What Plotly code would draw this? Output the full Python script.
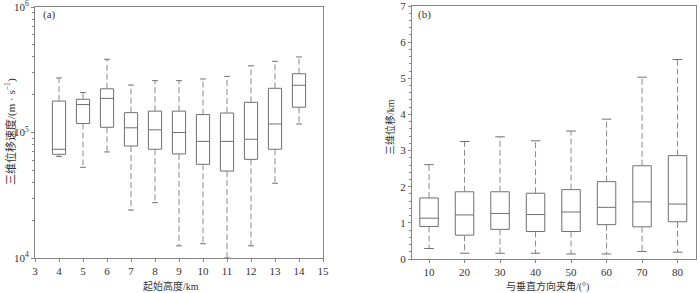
import plotly.graph_objects as go

# ---- data (a): start height vs 3D displacement speed ----
heights = [4, 5, 6, 7, 8, 9, 10, 11, 12, 13, 14]
a_low = [64500, 52800, 70000, 24100, 27600, 12500, 13000, 10000, 12500, 39400, 117000]
a_q1 = [67000, 118000, 110000, 78000, 73500, 67500, 55800, 49300, 61100, 73500, 159000]
a_med = [73500, 167000, 187000, 109000, 105000, 100000, 85000, 85000, 88300, 117000, 238000]
a_q3 = [178000, 184000, 223000, 144000, 148000, 148000, 139000, 143000, 174000, 225000, 294000]
a_high = [272000, 208000, 383000, 239000, 259000, 259000, 267000, 280000, 340000, 369000, 400000]

# ---- data (b): angle to vertical vs 3D displacement ----
angles = [10, 20, 30, 40, 50, 60, 70, 80]
b_low = [0.29, 0.16, 0.16, 0.16, 0.14, 0.14, 0.21, 0.19]
b_q1 = [0.90, 0.66, 0.82, 0.76, 0.76, 0.95, 0.89, 1.03]
b_med = [1.13, 1.22, 1.26, 1.23, 1.30, 1.43, 1.58, 1.52]
b_q3 = [1.69, 1.86, 1.86, 1.82, 1.92, 2.14, 2.58, 2.86]
b_high = [2.61, 3.25, 3.38, 3.27, 3.54, 3.87, 5.03, 5.52]

a_ticks = list(range(3, 16))
b_ticks = [0, 1, 2, 3, 4, 5, 6, 7]

LINE = "#707070"
WHISK = "#8a8a8a"
AXC = "#858585"
TXT = "#333333"
FONT = "Liberation Serif, Times New Roman, Noto Sans CJK SC, serif"

fig = go.Figure()


def add_panel(xs, low, q1, med, q3, high, width, cap, xa, ya):
    fig.add_trace(go.Box(
        x=xs, q1=q1, median=med, q3=q3, lowerfence=q1, upperfence=q3,
        width=width, line=dict(color=LINE, width=1), fillcolor="rgba(0,0,0,0)",
        boxpoints=False, whiskerwidth=0, xaxis=xa, yaxis=ya, showlegend=False,
        hoverinfo="skip"))
    wx, wy = [], []
    for x, l, a, b, h in zip(xs, low, q1, q3, high):
        wx += [x, x, None, x, x, None]
        wy += [b, h, None, a, l, None]
    fig.add_trace(go.Scatter(x=wx, y=wy, mode="lines", xaxis=xa, yaxis=ya,
                             line=dict(color=WHISK, width=1, dash="6px,3px"),
                             showlegend=False, hoverinfo="skip"))
    cx, cy = [], []
    for x, l, h in zip(xs, low, high):
        cx += [x - cap, x + cap, None, x - cap, x + cap, None]
        cy += [h, h, None, l, l, None]
    fig.add_trace(go.Scatter(x=cx, y=cy, mode="lines", xaxis=xa, yaxis=ya,
                             line=dict(color=LINE, width=1),
                             showlegend=False, hoverinfo="skip"))


add_panel(heights, a_low, a_q1, a_med, a_q3, a_high, 0.55, 0.12, "x", "y")
add_panel(angles, b_low, b_q1, b_med, b_q3, b_high, 5.2, 1.35, "x2", "y2")

W, H = 700, 293
ax_common = dict(showline=True, linecolor=AXC, linewidth=1, mirror=True,
                 showgrid=False, zeroline=False, ticks="outside", ticklen=3,
                 tickcolor=AXC, tickfont=dict(family=FONT, size=11, color=TXT),
                 automargin=False, ticklabeloverflow="allow")

minor_log = [m * 10 ** e for e in (4, 5) for m in range(2, 10)]

fig.update_layout(
    width=W, height=H, margin=dict(l=0, r=0, t=0, b=0),
    plot_bgcolor="white", paper_bgcolor="white",
    font=dict(family=FONT, color=TXT),
    xaxis=dict(domain=[35 / W, 323 / W], range=[3, 15], tickvals=a_ticks,
               anchor="y", **ax_common),
    yaxis=dict(domain=[1 - 258 / H, 1 - 7 / H], type="log", range=[4, 6],
               tickvals=[1e4, 1e5, 1e6],
               ticktext=["10<sup>4</sup>", "10<sup>5</sup>", "10<sup>6</sup>"],
               minor=dict(tickvals=minor_log, ticklen=2, tickcolor=AXC, ticks="outside"),
               anchor="x", **ax_common),
    xaxis2=dict(domain=[412 / W, 696 / W], range=[5.2, 85.2], tickvals=angles,
                anchor="y2", **ax_common),
    yaxis2=dict(domain=[1 - 259 / H, 1 - 6 / H], range=[0, 7], tickvals=b_ticks,
                minor=dict(dtick=0.2, ticklen=2, tickcolor=AXC, ticks="outside"),
                anchor="x2", **ax_common),
)


def ann(text, px, py, angle=0, size=10, xanchor="center"):
    fig.add_annotation(text=text, x=px / W, y=1 - py / H, xref="paper", yref="paper",
                       showarrow=False, textangle=angle, xanchor=xanchor, yanchor="middle",
                       font=dict(family=FONT, size=size, color=TXT))


ann("(a)", 41, 15, size=11, xanchor="left")
ann("(b)", 416, 15, size=11, xanchor="left")
ann("起始高度/km", 171, 286)
ann("与垂直方向夹角/(°)", 547, 286)
ann("三维位移速度/(m · s<sup>−1</sup>)", 10, 132, angle=-90, size=11)
ann("三维位移/km", 390, 127, angle=-90)

fig.write_html("out.html", config={"displayModeBar": False},
               post_script="document.body.style.margin='0px';")
